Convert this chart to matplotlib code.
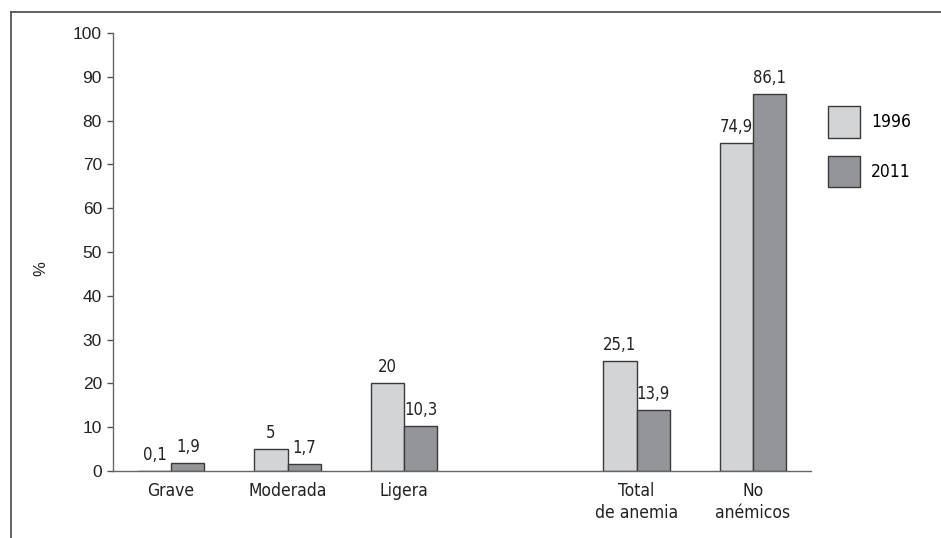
import matplotlib
matplotlib.use("Agg")
import matplotlib.pyplot as plt
from matplotlib.lines import Line2D
from matplotlib.patches import Patch
import numpy as np

categories = ["Grave", "Moderada", "Ligera", "Total\nde anemia", "No\nanémicos"]
positions = [0, 1, 2, 4, 5]
v1996 = [0.1, 5, 20, 25.1, 74.9]
v2011 = [1.9, 1.7, 10.3, 13.9, 86.1]
years = ["1996", "2011"]

light = "#d3d4d6"
dark = "#939598"
edge = "#3a3a3a"
narrow = dict(family="DejaVu Sans", stretch="condensed")

def fmt(v):
    return ("%g" % v).replace(".", ",")

fig = plt.figure(figsize=(9.41, 5.38), dpi=100)
ax = fig.add_axes([0.1201, 0.1245, 0.7418, 0.8142])

x = np.array(positions)
width = 0.285
b1 = ax.bar(x - width / 2, v1996, width, color=light, edgecolor=edge, linewidth=1)
b2 = ax.bar(x + width / 2, v2011, width, color=dark, edgecolor=edge, linewidth=1)

for bars, vals in ((b1, v1996), (b2, v2011)):
    for b, v in zip(bars, vals):
        ax.text(b.get_x() + b.get_width() / 2, v + 1.6, fmt(v), ha="center",
                va="bottom", fontsize=12, color="#222222", **narrow)

ax.set_xlim(-0.5, 5.5)
ax.set_ylim(0, 100)
ax.set_yticks(range(0, 101, 10))
ax.set_xticks(positions)
ax.set_xticklabels(categories, fontsize=12.5, color="#222222",
                   linespacing=1.3, **narrow)
ax.tick_params(axis="x", length=0, pad=8)
ax.tick_params(axis="y", length=4, width=1, colors="#555555",
               labelcolor="#222222", pad=4)
for t in ax.get_yticklabels():
    t.set_family(["Liberation Sans", "DejaVu Sans"])
    t.set_fontsize(12.5)

for s in ("top", "right"):
    ax.spines[s].set_visible(False)
for s in ("left", "bottom"):
    ax.spines[s].set_color("#666666")
    ax.spines[s].set_linewidth(1)

fig.text(0.043, 0.50, "%", rotation=90, fontsize=12, ha="center", va="center",
         color="#222222", family=["Liberation Sans", "DejaVu Sans"])

handles = [Patch(facecolor=light, edgecolor=edge), Patch(facecolor=dark, edgecolor=edge)]
fig.legend(handles, years, loc="upper left", bbox_to_anchor=(0.873, 0.815),
           frameon=False, handlelength=1.84, handleheight=2.4,
           labelspacing=1.05, handletextpad=0.6, borderaxespad=0,
           prop=dict(size=12.5, **narrow))

# outer frame (top and left lines)
fig.add_artist(Line2D([0.0117, 1.0], [0.9777, 0.9777], color="#555555", lw=1.3))
fig.add_artist(Line2D([0.0117, 0.0117], [0.0, 0.9777], color="#555555", lw=1.3))

fig.savefig("out.png", dpi=100)
